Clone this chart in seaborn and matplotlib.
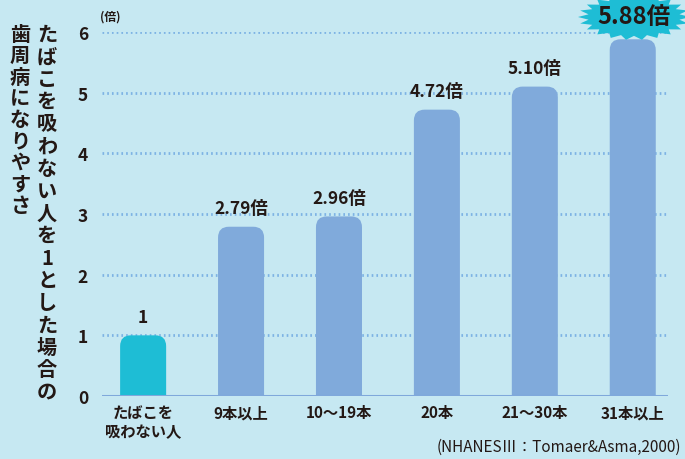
import numpy as np
import pandas as pd
import matplotlib
matplotlib.use("Agg")
import matplotlib.pyplot as plt
import seaborn as sns
from matplotlib.patches import FancyBboxPatch, Polygon

# データ
categories = ["たばこを\n吸わない人", "9本以上", "10〜19本", "20本", "21〜30本", "31本以上"]
values = [1, 2.79, 2.96, 4.72, 5.10, 5.88]
value_labels = ["1", "2.79倍", "2.96倍", "4.72倍", "5.10倍", "5.88倍"]
yticks = [0, 1, 2, 3, 4, 5, 6]
ylabel_col1 = "たばこを吸わない人を1とした場合の"
ylabel_col2 = "歯周病になりやすさ"
source = "(NHANESⅢ：Tomaer&Asma,2000)"

bg = "#c6e8f2"
bar_blue = "#80aadb"
bar_cyan = "#1ebdd5"
ink = "#231815"

sns.set_theme(style="white")
plt.rcParams["font.family"] = ["Noto Sans CJK JP", "DejaVu Sans"]

fig = plt.figure(figsize=(6.85, 4.6), dpi=100, facecolor=bg)
ax = fig.add_axes([102 / 685, 63 / 460, 566 / 685, 364 / 460])
ax.set_facecolor(bg)

df = pd.DataFrame({"cat": categories, "val": values})
palette = [bar_cyan] + [bar_blue] * 5
sns.barplot(data=df, x="cat", y="val", hue="cat", palette=palette, saturation=1,
            legend=False, width=0.47, ax=ax, zorder=3)

# 角丸のバーに置き換え
for p in list(ax.patches):
    x, w, h = p.get_x(), p.get_width(), p.get_height()
    fc = p.get_facecolor()
    p.remove()
    rb = FancyBboxPatch((x, -0.5), w, h + 0.5,
                        boxstyle="round,pad=0,rounding_size=0.11",
                        mutation_aspect=1.62, fc=fc, ec="none", zorder=3)
    ax.add_patch(rb)

ax.set_xlim(-0.42, 5.36)
ax.set_ylim(0, 6)
ax.set_yticks(yticks)
ax.set_yticklabels([str(t) for t in yticks], fontsize=12.5, fontweight="bold", color=ink)
ax.tick_params(axis="y", length=0, pad=10)
ax.tick_params(axis="x", length=0, pad=6)
ax.set_xticks(range(len(categories)))
ax.set_xticklabels(categories, fontsize=11, fontweight="bold", color=ink, linespacing=1.2)
ax.set_xlabel("")
ax.set_ylabel("")
for s in ax.spines.values():
    s.set_visible(False)

for t in yticks[1:]:
    ax.axhline(t, color="#7db3e4", lw=2, ls=(0, (0.6, 1.1)), zorder=1)
ax.axhline(0, color="#7fa8db", lw=2.2, zorder=4)

# 数値ラベル
for i, (v, lab) in enumerate(zip(values, value_labels)):
    if i == len(values) - 1:
        continue
    ax.annotate(lab, (i, v), xytext=(0, 7), textcoords="offset points",
                ha="center", va="bottom", fontsize=12.5, fontweight="bold", color=ink)

# 最大値の星形ハイライト
n = 44
ang = np.linspace(0, 2 * np.pi, n, endpoint=False)
r = np.where(np.arange(n) % 2 == 0, 1.0, 0.82)
cx, cy = 634, 18
px = cx + 56 * r * np.cos(ang)
py = cy + 23 * r * np.sin(ang)
star = Polygon(np.column_stack([px / 685, 1 - py / 460]), closed=True,
               transform=fig.transFigure, fc=bar_cyan, ec="none", zorder=5)
fig.patches.append(star)
fig.text(cx / 685, 1 - 17 / 460, value_labels[-1], ha="center", va="center",
         fontsize=17, fontweight="bold", color=ink, zorder=6)

fig.text(100 / 685, 1 - 17 / 460, "(倍)", ha="left", va="center",
         fontsize=8.5, fontweight="bold", color=ink)

# 縦書きの軸ラベル
fig.text(47 / 685, 1 - 24 / 460, "\n".join(ylabel_col1), ha="center", va="top",
         fontsize=14.5, fontweight="bold", color=ink, linespacing=1.08)
fig.text(20 / 685, 1 - 24 / 460, "\n".join(ylabel_col2), ha="center", va="top",
         fontsize=14.5, fontweight="bold", color=ink, linespacing=1.02)

fig.text(681 / 685, 1 - 447 / 460, source, ha="right", va="center",
         fontsize=11, color=ink)

fig.savefig("out.png", dpi=100, facecolor=bg)
